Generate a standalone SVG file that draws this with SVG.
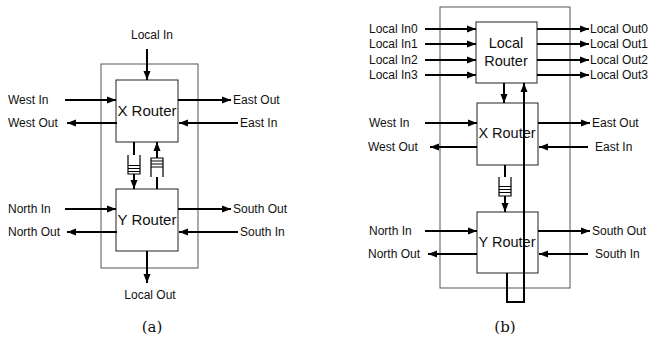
<svg xmlns="http://www.w3.org/2000/svg" width="650" height="341" viewBox="0 0 650 341">
<style>
text{font-family:"Liberation Sans",Arial,sans-serif;font-size:12px;fill:#111}
.big{font-size:14.5px;text-anchor:middle}
.bigA{font-size:15px;text-anchor:middle}
.cap{font-family:"DejaVu Serif","Liberation Serif",serif;font-size:15px;text-anchor:middle}
.frame{fill:none;stroke:#555;stroke-width:1}
.box{fill:#fff;stroke:#222;stroke-width:1}
.ar{stroke:#000;stroke-width:2;fill:none;marker-end:url(#ah)}
.ln{stroke:#000;stroke-width:2;fill:none}
.q{fill:#fff;stroke:#000;stroke-width:1.2}
</style>
<defs>
<marker id="ah" markerUnits="userSpaceOnUse" markerWidth="10" markerHeight="8" refX="9" refY="4" orient="auto">
<path d="M0,0.5 L9,4 L0,7.5 z" fill="#000"/>
</marker>
</defs>
<rect width="650" height="341" fill="#fff"/>

<!-- (a) -->
<g id="a-frame"><rect class="frame" x="101" y="64" width="97" height="204"/></g>
<g id="a-xrouter"><rect class="box" x="116" y="80" width="62" height="62"/><text class="bigA" x="147" y="116">X Router</text></g>
<g id="a-yrouter"><rect class="box" x="116" y="189" width="62" height="62"/><text class="bigA" x="147" y="225">Y Router</text></g>
<g id="a-queue-down">
<path class="q" d="M128,155 V174 H140 V155"/>
<path stroke="#000" stroke-width="1" d="M128,165.5 H140 M128,168.5 H140 M128,171.5 H140"/>
</g>
<g id="a-queue-up">
<path class="q" d="M151,177 V158 H163 V177"/>
<path stroke="#000" stroke-width="1" d="M151,161 H163 M151,164 H163 M151,167 H163"/>
</g>
<g id="a-labels">
<text x="152" y="39" text-anchor="middle">Local In</text>
<text x="150" y="299" text-anchor="middle">Local Out</text>
<text x="8" y="104">West In</text>
<text x="8" y="127">West Out</text>
<text x="233" y="104">East Out</text>
<text x="240" y="127">East In</text>
<text x="8" y="213">North In</text>
<text x="8" y="236">North Out</text>
<text x="233" y="213">South Out</text>
<text x="240" y="236">South In</text>
</g>
<g id="a-connectors">
<line class="ar" x1="147" y1="49" x2="147" y2="80"/>
<line class="ar" x1="147" y1="251" x2="147" y2="283"/>
<line class="ar" x1="65" y1="100" x2="116" y2="100"/>
<line class="ar" x1="117" y1="123" x2="67" y2="123"/>
<line class="ar" x1="178" y1="100" x2="231" y2="100"/>
<line class="ar" x1="238" y1="123" x2="179" y2="123"/>
<line class="ar" x1="65" y1="209" x2="116" y2="209"/>
<line class="ar" x1="117" y1="232" x2="67" y2="232"/>
<line class="ar" x1="178" y1="209" x2="231" y2="209"/>
<line class="ar" x1="238" y1="232" x2="179" y2="232"/>
<line class="ln" x1="134" y1="142" x2="134" y2="155"/>
<line class="ar" x1="134" y1="174" x2="134" y2="189"/>
<line class="ln" x1="157" y1="189" x2="157" y2="177"/>
<line class="ar" x1="157" y1="158" x2="157" y2="142"/>
</g>
<text class="cap" x="152" y="332">(a)</text>

<!-- (b) -->
<g id="b-frame"><rect class="frame" x="440" y="7" width="130" height="281"/></g>
<g id="b-localrouter"><rect class="box" x="476" y="22" width="61" height="61"/><text class="big" x="506" y="48">Local</text><text class="big" x="506" y="66">Router</text></g>
<g id="b-xrouter"><rect class="box" x="477" y="103" width="61" height="62"/><text class="big" x="507" y="138">X Router</text></g>
<g id="b-yrouter"><rect class="box" x="477" y="212" width="61" height="61"/><text class="big" x="507" y="247">Y Router</text></g>
<g id="b-queue">
<path class="q" d="M499,177 V196 H511 V177"/>
<path stroke="#000" stroke-width="1" d="M499,186.5 H511 M499,189.5 H511 M499,192.5 H511"/>
</g>
<g id="b-labels">
<text x="369" y="33">Local In0</text>
<text x="369" y="48">Local In1</text>
<text x="369" y="64">Local In2</text>
<text x="369" y="79">Local In3</text>
<text x="590" y="33">Local Out0</text>
<text x="590" y="48">Local Out1</text>
<text x="590" y="64">Local Out2</text>
<text x="590" y="79">Local Out3</text>
<text x="369" y="127">West In</text>
<text x="368" y="151">West Out</text>
<text x="592" y="127">East Out</text>
<text x="595" y="151">East In</text>
<text x="369" y="235">North In</text>
<text x="368" y="258">North Out</text>
<text x="592" y="235">South Out</text>
<text x="595" y="258">South In</text>
</g>
<g id="b-connectors">
<line class="ar" x1="425" y1="29" x2="476" y2="29"/>
<line class="ar" x1="425" y1="44" x2="476" y2="44"/>
<line class="ar" x1="425" y1="60" x2="476" y2="60"/>
<line class="ar" x1="425" y1="75" x2="476" y2="75"/>
<line class="ar" x1="537" y1="29" x2="589" y2="29"/>
<line class="ar" x1="537" y1="44" x2="589" y2="44"/>
<line class="ar" x1="537" y1="60" x2="589" y2="60"/>
<line class="ar" x1="537" y1="75" x2="589" y2="75"/>
<line class="ar" x1="504" y1="83" x2="504" y2="103"/>
<line class="ar" x1="425" y1="123" x2="477" y2="123"/>
<line class="ar" x1="477" y1="147" x2="430" y2="147"/>
<line class="ar" x1="538" y1="123" x2="590" y2="123"/>
<line class="ar" x1="588" y1="147" x2="539" y2="147"/>
<line class="ar" x1="425" y1="231" x2="477" y2="231"/>
<line class="ar" x1="477" y1="254" x2="428" y2="254"/>
<line class="ar" x1="538" y1="231" x2="590" y2="231"/>
<line class="ar" x1="588" y1="254" x2="539" y2="254"/>
<line class="ln" x1="505" y1="165" x2="505" y2="177"/>
<line class="ar" x1="505" y1="196" x2="505" y2="212"/>
<path class="ar" stroke-width="2.5" d="M507,273 V302 H524 V83"/>
</g>
<text class="cap" x="505" y="332">(b)</text>
</svg>
